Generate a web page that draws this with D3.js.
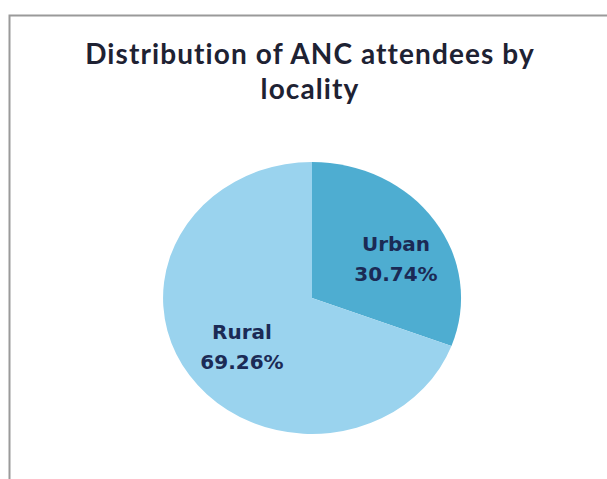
<!DOCTYPE html>
<html>
<head>
<meta charset="utf-8">
<script src="https://cdnjs.cloudflare.com/ajax/libs/d3/7.8.5/d3.min.js"></script>
<style>
  html, body { margin: 0; padding: 0; background: #fff; }
  svg { display: block; }
</style>
</head>
<body>
<svg id="chart" width="607" height="479"></svg>
<script>
// chart data
var categories = ["Urban", "Rural"];
var values = [30.74, 69.26];
var colors = ["#4eadd1", "#9ad3ee"];
var titleLines = ["Distribution of ANC attendees by", "locality"];

var svg = d3.select("#chart"),
    W = +svg.attr("width"),
    H = +svg.attr("height");

// frame (only top and left edges show in the picture)
svg.append("path")
  .attr("d", "M9.5," + H + "V15.5H" + W)
  .attr("fill", "none")
  .attr("stroke", "#9a9a9a")
  .attr("stroke-width", 2);

// title
var title = svg.append("text")
  .attr("text-anchor", "middle")
  .attr("font-family", "Lato, 'Open Sans', sans-serif")
  .attr("font-weight", "bold")
  .attr("font-size", 28)
  .attr("letter-spacing", 1.1)
  .attr("fill", "#1e2233");

title.selectAll("tspan")
  .data(titleLines)
  .enter().append("tspan")
  .attr("x", 310)
  .attr("y", function(d, i) { return 64 + i * 35; })
  .text(function(d) { return d; });

// pie (slightly squashed vertically like the original)
var cx = 312, cy = 298, rx = 149, ry = 136;

var pie = d3.pie()
  .sort(null)
  .value(function(d) { return d.value; });

var data = categories.map(function(c, i) {
  return {name: c, value: values[i], color: colors[i]};
});
var arcs = pie(data);

var arc = d3.arc().innerRadius(0).outerRadius(1);
var labelArc = d3.arc().innerRadius(0.62).outerRadius(0.62);

var g = svg.append("g")
  .attr("transform", "translate(" + cx + "," + cy + ") scale(" + rx + "," + ry + ")");

g.selectAll("path.slice")
  .data(arcs)
  .enter().append("path")
  .attr("class", "slice")
  .attr("d", arc)
  .attr("fill", function(d) { return d.data.color; });

// labels
var fmt = d3.format(".2f");
var labels = svg.append("g")
  .attr("font-family", "'DejaVu Sans', Verdana, sans-serif")
  .attr("font-weight", "bold")
  .attr("font-size", 20)
  .attr("fill", "#1b2a55")
  .attr("text-anchor", "middle");

labels.selectAll("text")
  .data(arcs)
  .enter().append("text")
  .each(function(d) {
    var c = labelArc.centroid(d);
    var x = cx + c[0] * rx + (d.index === 0 ? 8 : 6);
    var y = cy + c[1] * ry + (d.index === 0 ? 8 : 1);
    var t = d3.select(this);
    t.append("tspan").attr("x", x).attr("y", y - 7.5).text(d.data.name);
    t.append("tspan").attr("x", x).attr("y", y + 22.5).text(fmt(d.data.value) + "%");
  });
</script>
</body>
</html>
